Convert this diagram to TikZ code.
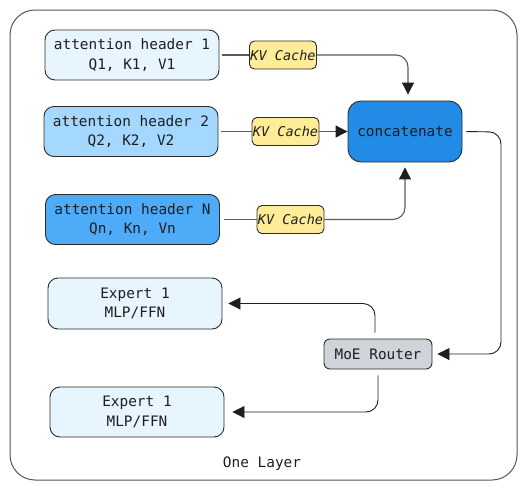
\documentclass[tikz,border=0pt]{standalone}
\usepackage{fontspec}
\setmonofont{DejaVu Sans Mono}
\usetikzlibrary{arrows.meta}
\definecolor{hone}{HTML}{E7F5FF}
\definecolor{htwo}{HTML}{A5D8FF}
\definecolor{hn}{HTML}{4DABF7}
\definecolor{concatfill}{HTML}{228BE6}
\definecolor{kvfill}{HTML}{FFEC99}
\definecolor{routerfill}{HTML}{CED4DA}
\definecolor{boxline}{HTML}{2B2B2B}
\definecolor{lineg}{HTML}{5A5A5A}
\definecolor{lined}{HTML}{1E1E1E}
\definecolor{framec}{HTML}{555555}
\begin{document}
\begin{tikzpicture}[x=1pt,y=-1pt,
  txt/.style={font=\ttfamily\fontsize{14.4}{19.5}\selectfont, text=lined},
  box/.style={txt, draw=boxline, line width=0.9pt, rounded corners=10pt, align=center,
    minimum width=174pt, minimum height=50pt, inner sep=0pt},
  kv/.style={draw=boxline, line width=0.9pt, fill=kvfill, rounded corners=5pt,
    minimum width=67pt, minimum height=28pt, inner sep=0pt,
    font=\ttfamily\itshape\fontsize{13.5}{16}\selectfont, text=lined},
  conn/.style={draw=lineg, line width=1.1pt, rounded corners=12pt},
  connd/.style={draw=lined, line width=0.9pt, rounded corners=12pt},
  tip/.style={-{Triangle[length=12pt,width=12pt,color=lined]}}
]
\useasboundingbox (0,0) rectangle (527,490);
\node[draw=framec, line width=1pt, rounded corners=25pt, minimum width=507pt,
  minimum height=470pt, inner sep=0pt] (layer) at (263.5,245) {};
\node[txt] (layertext) at (262,464) {One Layer};

\node[box, fill=hone] (h1) at (132,55) {attention header 1\\Q1, K1, V1};
\node[box, fill=htwo] (h2) at (131,131.5) {attention header 2\\Q2, K2, V2};
\node[box, fill=hn] (hN) at (132.5,219.5) {attention header N\\Qn, Kn, Vn};

\node[kv] (kv1) at (283,55) {KV Cache};
\node[kv] (kv2) at (285.5,131.5) {KV Cache};
\node[kv] (kvN) at (290.5,219.5) {KV Cache};

\node[box, fill=concatfill, minimum width=114pt, minimum height=61pt, rounded corners=13pt] (cat) at (405,131.5) {concatenate};
\node[box, fill=routerfill, minimum width=108pt, minimum height=30pt, rounded corners=6pt] (router) at (378,354) {MoE Router};

\node[box, fill=hone, minimum height=51pt] (e1) at (135,303.5) {Expert 1\\MLP/FFN};
\node[box, fill=hone] (e2) at (137,412) {Expert 1\\MLP/FFN};

% header 1
\draw[conn, shorten <=3pt] (h1.east) -- (kv1.west);
\draw[conn, tip, shorten >=6pt] (kv1.east) -| ([xshift=3pt]cat.north);
% header 2
\draw[conn, shorten <=3pt] (h2.east) -- (kv2.west);
\draw[conn, tip] (kv2.east) -- (cat.west);
% header N
\draw[conn, shorten <=4pt] (hN.east) -- (kvN.west);
\draw[conn, tip, shorten >=5pt] (kvN.east) -| (cat.south);
% concat to router
\coordinate (rc) at (501,132);
\draw[connd, tip, shorten <=4pt, shorten >=5pt] (cat.east) -- (rc) |- (router.east);
% router to experts
\draw[connd, tip, shorten <=6pt, shorten >=6pt] ([xshift=-3pt]router.north) |- (e1.east);
\draw[connd, tip, shorten <=6pt, shorten >=8pt] (router.south) |- (e2.east);
\end{tikzpicture}
\end{document}
